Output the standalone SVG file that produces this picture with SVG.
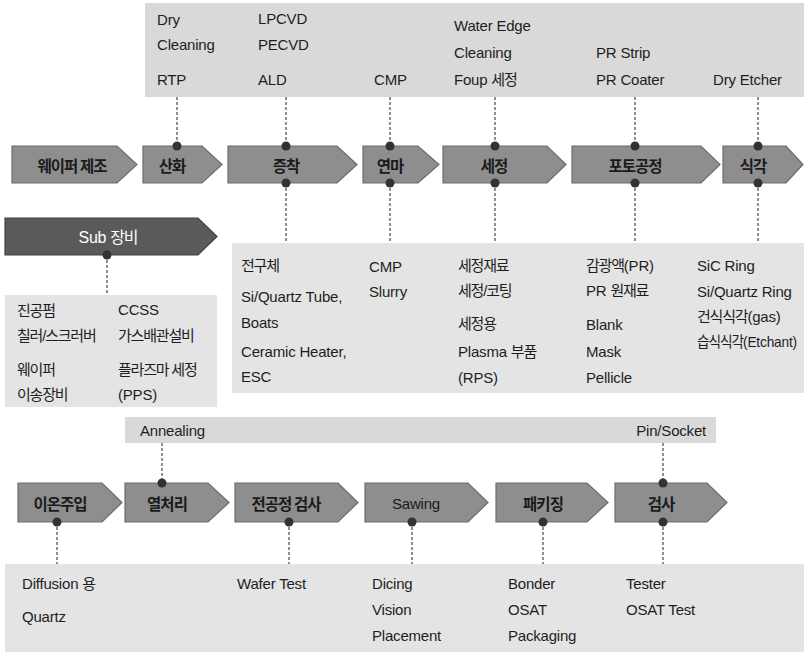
<svg xmlns="http://www.w3.org/2000/svg" width="804" height="659" viewBox="0 0 804 659">
  <style>
    .bgA { fill: #d9d9d9; }
    .bgB { fill: #e4e4e4; }
    .arr { fill: #8e8e8e; stroke: #6c6c6c; stroke-width: 1.2; }
    .arrDark { fill: #5a5a5a; stroke: #404040; stroke-width: 1.2; }
    .t { font-family: "Liberation Sans", "Noto Sans CJK KR", sans-serif; font-size: 15px; fill: #1e1e1e; letter-spacing: -0.2px; }
    .k { letter-spacing: -1.2px; }
    .lbl { font-family: "Noto Sans CJK KR", "Liberation Sans", sans-serif; font-size: 15.5px; font-weight: bold; fill: #1a1a1a; text-anchor: middle; letter-spacing: -1px; }
    .lblW { font-family: "Liberation Sans", "Noto Sans CJK KR", sans-serif; font-size: 16px; fill: #ffffff; text-anchor: middle; letter-spacing: -0.3px; }
    .lblN { font-family: "Liberation Sans", "Noto Sans CJK KR", sans-serif; font-size: 15px; fill: #1a1a1a; text-anchor: middle; letter-spacing: -0.2px; }
    .dash { stroke: #555555; stroke-width: 1.3; stroke-dasharray: 3 2; fill: none; }
    .dot { fill: #333333; }
  </style>

  <!-- background panels -->
  <g id="panels">
    <rect class="bgA" x="145" y="3" width="659" height="94"/>
    <rect class="bgB" x="232" y="243" width="572" height="150"/>
    <rect class="bgB" x="5" y="295" width="212" height="112"/>
    <rect class="bgA" x="125" y="417" width="591" height="26"/>
    <rect class="bgB" x="5" y="564" width="799" height="88"/>
  </g>

  <!-- equipment lists -->
  <g id="top-equipment">
    <text class="t" x="157" y="25">Dry</text>
    <text class="t" x="157" y="50">Cleaning</text>
    <text class="t" x="157" y="85">RTP</text>
    <text class="t" x="258" y="24">LPCVD</text>
    <text class="t" x="258" y="50">PECVD</text>
    <text class="t" x="258" y="85">ALD</text>
    <text class="t" x="374" y="85">CMP</text>
    <text class="t" x="454" y="31">Water Edge</text>
    <text class="t" x="454" y="58">Cleaning</text>
    <text class="t" x="454" y="85">Foup <tspan class="k">세정</tspan></text>
    <text class="t" x="596" y="58">PR Strip</text>
    <text class="t" x="596" y="85">PR Coater</text>
    <text class="t" x="713" y="85">Dry Etcher</text>
  </g>

  <g id="materials">
    <text class="t k" x="241" y="271">전구체</text>
    <text class="t" x="241" y="302">Si/Quartz Tube,</text>
    <text class="t" x="241" y="328">Boats</text>
    <text class="t" x="241" y="357">Ceramic Heater,</text>
    <text class="t" x="241" y="382">ESC</text>
    <text class="t" x="369" y="272">CMP</text>
    <text class="t" x="369" y="297">Slurry</text>
    <text class="t k" x="458" y="271">세정재료</text>
    <text class="t k" x="458" y="296">세정/코팅</text>
    <text class="t k" x="458" y="329">세정용</text>
    <text class="t" x="458" y="357">Plasma <tspan class="k">부품</tspan></text>
    <text class="t" x="458" y="383">(RPS)</text>
    <text class="t" x="586" y="271"><tspan class="k">감광액</tspan>(PR)</text>
    <text class="t" x="586" y="296">PR <tspan class="k">원재료</tspan></text>
    <text class="t" x="586" y="330">Blank</text>
    <text class="t" x="586" y="357">Mask</text>
    <text class="t" x="586" y="383">Pellicle</text>
    <text class="t" x="697" y="271">SiC Ring</text>
    <text class="t" x="697" y="297">Si/Quartz Ring</text>
    <text class="t" x="697" y="322"><tspan class="k">건식식각</tspan>(gas)</text>
    <text class="t" x="697" y="347" textLength="100" lengthAdjust="spacingAndGlyphs"><tspan class="k">습식식각</tspan>(Etchant)</text>
  </g>

  <g id="sub-equipment">
    <text class="t k" x="17" y="316">진공펌</text>
    <text class="t" x="118" y="315">CCSS</text>
    <text class="t k" x="17" y="341">칠러/스크러버</text>
    <text class="t k" x="118" y="341">가스배관설비</text>
    <text class="t k" x="17" y="375">웨이퍼</text>
    <text class="t k" x="118" y="375">플라즈마 세정</text>
    <text class="t k" x="17" y="400">이송장비</text>
    <text class="t" x="118" y="400">(PPS)</text>
  </g>

  <g id="back-end-equipment">
    <text class="t" x="140" y="436">Annealing</text>
    <text class="t" x="706" y="436" text-anchor="end">Pin/Socket</text>
    <text class="t" x="22" y="589">Diffusion <tspan class="k">용</tspan></text>
    <text class="t" x="22" y="622">Quartz</text>
    <text class="t" x="237" y="589">Wafer Test</text>
    <text class="t" x="372" y="589">Dicing</text>
    <text class="t" x="372" y="615">Vision</text>
    <text class="t" x="372" y="641">Placement</text>
    <text class="t" x="508" y="589">Bonder</text>
    <text class="t" x="508" y="615">OSAT</text>
    <text class="t" x="508" y="641">Packaging</text>
    <text class="t" x="626" y="589">Tester</text>
    <text class="t" x="626" y="615">OSAT Test</text>
  </g>

  <!-- connectors -->
  <g id="connectors">
    <line class="dash" x1="177" y1="97" x2="177" y2="146"/>
    <line class="dash" x1="286" y1="97" x2="286" y2="146"/>
    <line class="dash" x1="390" y1="97" x2="390" y2="146"/>
    <line class="dash" x1="495" y1="97" x2="495" y2="146"/>
    <line class="dash" x1="635" y1="97" x2="635" y2="146"/>
    <line class="dash" x1="758" y1="97" x2="758" y2="146"/>
    <line class="dash" x1="286" y1="183" x2="286" y2="243"/>
    <line class="dash" x1="390" y1="183" x2="390" y2="243"/>
    <line class="dash" x1="495" y1="183" x2="495" y2="243"/>
    <line class="dash" x1="635" y1="183" x2="635" y2="243"/>
    <line class="dash" x1="758" y1="183" x2="758" y2="243"/>
    <line class="dash" x1="107" y1="255" x2="107" y2="295"/>
    <line class="dash" x1="162" y1="443" x2="162" y2="483"/>
    <line class="dash" x1="663" y1="443" x2="663" y2="483"/>
    <line class="dash" x1="57" y1="522" x2="57" y2="564"/>
    <line class="dash" x1="289" y1="522" x2="289" y2="564"/>
    <line class="dash" x1="412" y1="522" x2="412" y2="564"/>
    <line class="dash" x1="543" y1="522" x2="543" y2="564"/>
    <line class="dash" x1="663" y1="522" x2="663" y2="564"/>
  </g>

  <!-- front-end process steps -->
  <g id="step-wafer">
    <path class="arr" d="M12,146 H117 L137,164.5 L117,183 H12 Z"/>
    <text class="lbl" x="72" y="165" dominant-baseline="central">웨이퍼 제조</text>
  </g>
  <g id="step-oxidation">
    <path class="arr" d="M143,146 H202 L222,164.5 L202,183 H143 Z"/>
    <text class="lbl" x="172" y="165" dominant-baseline="central">산화</text>
    <circle class="dot" cx="177" cy="146" r="4.5"/>
  </g>
  <g id="step-deposition">
    <path class="arr" d="M228,146 H337 L357,164.5 L337,183 H228 Z"/>
    <text class="lbl" x="286" y="165" dominant-baseline="central">증착</text>
    <circle class="dot" cx="286" cy="146" r="4.5"/>
    <circle class="dot" cx="286" cy="183" r="4.5"/>
  </g>
  <g id="step-polish">
    <path class="arr" d="M363,146 H418 L439,164.5 L418,183 H363 Z"/>
    <text class="lbl" x="390" y="165" dominant-baseline="central">연마</text>
    <circle class="dot" cx="390" cy="146" r="4.5"/>
    <circle class="dot" cx="390" cy="183" r="4.5"/>
  </g>
  <g id="step-cleaning">
    <path class="arr" d="M443,146 H547 L566,164.5 L547,183 H443 Z"/>
    <text class="lbl" x="494" y="165" dominant-baseline="central">세정</text>
    <circle class="dot" cx="495" cy="146" r="4.5"/>
    <circle class="dot" cx="495" cy="183" r="4.5"/>
  </g>
  <g id="step-photo">
    <path class="arr" d="M572,146 H701 L720,164.5 L701,183 H572 Z"/>
    <text class="lbl" x="635" y="165" dominant-baseline="central">포토공정</text>
    <circle class="dot" cx="635" cy="146" r="4.5"/>
    <circle class="dot" cx="635" cy="183" r="4.5"/>
  </g>
  <g id="step-etch">
    <path class="arr" d="M723,146 H786 L803,164.5 L786,183 H723 Z"/>
    <text class="lbl" x="753" y="165" dominant-baseline="central">식각</text>
    <circle class="dot" cx="758" cy="146" r="4.5"/>
    <circle class="dot" cx="758" cy="183" r="4.5"/>
  </g>

  <g id="sub-equipment-head">
    <path class="arrDark" d="M5,218 H198 L217,236.5 L198,255 H5 Z"/>
    <text class="lblW" x="108" y="237" dominant-baseline="central">Sub <tspan letter-spacing="-1.2">장비</tspan></text>
    <circle class="dot" cx="107" cy="255" r="4.5"/>
  </g>

  <!-- back-end process steps -->
  <g id="step-implant">
    <path class="arr" d="M18,483 H102 L122,502.5 L102,522 H18 Z"/>
    <text class="lbl" x="60" y="503" dominant-baseline="central">이온주입</text>
    <circle class="dot" cx="57" cy="522" r="4.5"/>
  </g>
  <g id="step-anneal">
    <path class="arr" d="M125,483 H208 L229,502.5 L208,522 H125 Z"/>
    <text class="lbl" x="167" y="503" dominant-baseline="central">열처리</text>
    <circle class="dot" cx="162" cy="483" r="4.5"/>
  </g>
  <g id="step-wafer-test">
    <path class="arr" d="M235,483 H338 L358,502.5 L338,522 H235 Z"/>
    <text class="lbl" x="286" y="503" dominant-baseline="central">전공정 검사</text>
    <circle class="dot" cx="289" cy="522" r="4.5"/>
  </g>
  <g id="step-sawing">
    <path class="arr" d="M365,483 H468 L488,502.5 L468,522 H365 Z"/>
    <text class="lblN" x="416" y="503" dominant-baseline="central">Sawing</text>
    <circle class="dot" cx="412" cy="522" r="4.5"/>
  </g>
  <g id="step-packaging">
    <path class="arr" d="M496,483 H587 L608,502.5 L587,522 H496 Z"/>
    <text class="lbl" x="543" y="503" dominant-baseline="central">패키징</text>
    <circle class="dot" cx="543" cy="522" r="4.5"/>
  </g>
  <g id="step-final-test">
    <path class="arr" d="M615,483 H707 L727,502.5 L707,522 H615 Z"/>
    <text class="lbl" x="661" y="503" dominant-baseline="central">검사</text>
    <circle class="dot" cx="663" cy="483" r="4.5"/>
    <circle class="dot" cx="663" cy="522" r="4.5"/>
  </g>
</svg>
